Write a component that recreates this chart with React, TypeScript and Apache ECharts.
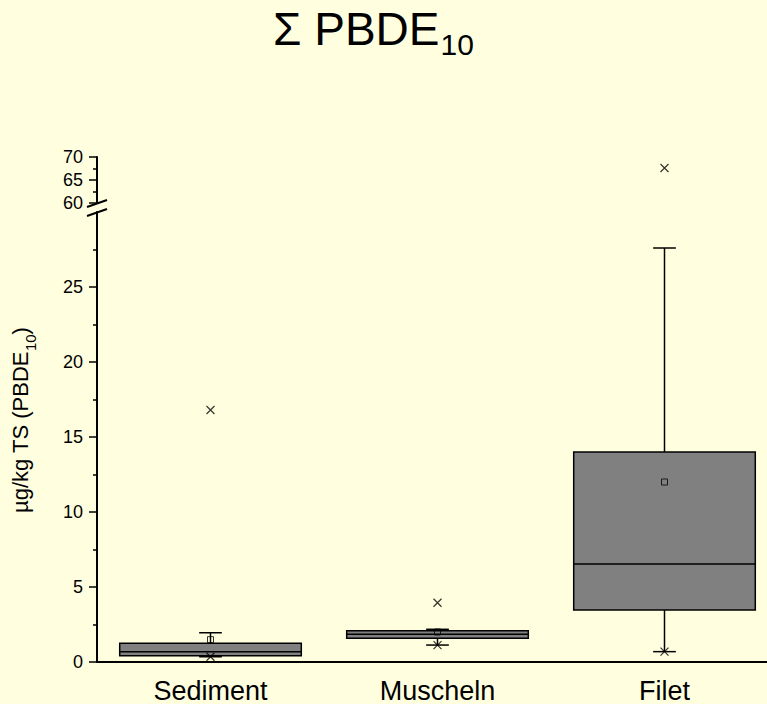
import React, { useEffect, useRef } from "react";
import * as echarts from "echarts";

const categories = ["Sediment", "Muscheln", "Filet"];
const whiskerLow = [0.35, 1.13, 0.69];
const q1 = [0.42, 1.58, 3.47];
const median = [0.69, 1.85, 6.53];
const q3 = [1.25, 2.09, 14.0];
const whiskerHigh = [1.95, 2.18, 27.6];
const means = [1.49, 2.0, 12.0];
const minVals = [0.35, 1.13, 0.69];
const maxVals = [16.8, 3.95, 67.6];

const lowerTicks = [0, 5, 10, 15, 20, 25];
const upperTicks = [60, 65, 70];
const LOWER_MAX = 30;

const FONT = "'Liberation Sans', Arial, Helvetica, sans-serif";

function measure(text: string, size: number): number {
  const c = document.createElement("canvas");
  const ctx = c.getContext("2d");
  if (!ctx) return text.length * size * 0.55;
  ctx.font = `${size}px ${FONT}`;
  return ctx.measureText(text).width;
}

export default function App() {
  const ref = useRef<HTMLDivElement>(null);
  useEffect(() => {
    document.body.style.margin = "0";
    if (!ref.current) return;
    const chart = echarts.init(ref.current, null, { renderer: "svg" });

    const titleMain = "Σ PBDE";
    const titleSize = 46;
    const titleSubSize = 30;
    const titleW = measure(titleMain, titleSize);
    const titleX = 273;

    const yMain = "µg/kg TS (PBDE";
    const ySize = 22;
    const ySubSize = 15;
    const yMainW = measure(yMain, ySize);
    const ySubW = measure("10", ySubSize);
    const yEndW = measure(")", ySize);
    const yTotal = yMainW + ySubW + yEndW;
    const yStart = -yTotal / 2;

    const axisLine = { lineStyle: { color: "#000", width: 2 } };
    const tickStyle = { color: "#000", width: 1.5 };

    const lowerMarks: number[][] = [];
    const upperMarks: number[][] = [];
    categories.forEach((_, i) => {
      lowerMarks.push([i, minVals[i]]);
      if (maxVals[i] <= LOWER_MAX) lowerMarks.push([i, maxVals[i]]);
      else upperMarks.push([i, maxVals[i]]);
    });

    const xSymbol = "path://M0,0L10,10M10,0L0,10";

    const option: any = {
      animation: false,
      backgroundColor: "#FFFFE0",
      grid: [
        { left: 97, top: 212, width: 681, height: 450 },
        { left: 97, top: 157, width: 681, height: 46 },
      ],
      xAxis: [
        {
          type: "category",
          gridIndex: 0,
          data: categories,
          axisLine: axisLine,
          axisTick: { alignWithLabel: true, length: 9, lineStyle: { color: "#000", width: 2 } },
          axisLabel: { color: "#000", fontSize: 27, fontFamily: FONT, margin: 15 },
          splitLine: { show: false },
        },
        {
          type: "category",
          gridIndex: 1,
          data: categories,
          show: false,
        },
      ],
      yAxis: [
        {
          type: "value",
          gridIndex: 0,
          min: 0,
          max: LOWER_MAX,
          interval: 5,
          axisLine: { show: true, ...axisLine },
          axisTick: { show: true, length: 8, lineStyle: tickStyle, customValues: lowerTicks },
          minorTick: { show: true, splitNumber: 2, length: 4, lineStyle: tickStyle },
          axisLabel: { color: "#000", fontSize: 18, fontFamily: FONT, margin: 14, customValues: lowerTicks },
          splitLine: { show: false },
        },
        {
          type: "value",
          gridIndex: 1,
          min: 60,
          max: 70,
          interval: 5,
          axisLine: { show: true, ...axisLine },
          axisTick: { show: true, length: 8, lineStyle: tickStyle, customValues: upperTicks },
          minorTick: { show: true, splitNumber: 2, length: 4, lineStyle: tickStyle },
          axisLabel: { color: "#000", fontSize: 18, fontFamily: FONT, margin: 14, customValues: upperTicks },
          splitLine: { show: false },
        },
      ],
      series: [
        {
          type: "custom",
          xAxisIndex: 0,
          yAxisIndex: 0,
          encode: { x: 0, y: [1, 2, 3, 4, 5] },
          data: categories.map((_, i) => [i, whiskerLow[i], q1[i], median[i], q3[i], whiskerHigh[i]]),
          renderItem: (params: any, api: any) => {
            const i = api.value(0);
            const lo = api.coord([i, api.value(1)]);
            const b1 = api.coord([i, api.value(2)]);
            const md = api.coord([i, api.value(3)]);
            const b3 = api.coord([i, api.value(4)]);
            const hi = api.coord([i, api.value(5)]);
            const band = api.size([1, 0])[0];
            const bw = band * 0.8;
            const cw = band * 0.1;
            const cx = lo[0];
            const st = { stroke: "#000", lineWidth: 1.5 };
            return {
              type: "group",
              children: [
                { type: "line", shape: { x1: cx, y1: hi[1], x2: cx, y2: b3[1] }, style: st },
                { type: "line", shape: { x1: cx, y1: b1[1], x2: cx, y2: lo[1] }, style: st },
                { type: "line", shape: { x1: cx - cw / 2, y1: hi[1], x2: cx + cw / 2, y2: hi[1] }, style: st },
                { type: "line", shape: { x1: cx - cw / 2, y1: lo[1], x2: cx + cw / 2, y2: lo[1] }, style: st },
                {
                  type: "rect",
                  shape: { x: cx - bw / 2, y: b3[1], width: bw, height: b1[1] - b3[1] },
                  style: { fill: "#808080", stroke: "#000", lineWidth: 1.5 },
                },
                { type: "line", shape: { x1: cx - bw / 2, y1: md[1], x2: cx + bw / 2, y2: md[1] }, style: st },
              ],
            };
          },
          z: 2,
        },
        {
          type: "scatter",
          xAxisIndex: 0,
          yAxisIndex: 0,
          data: means.map((m, i) => [i, m]),
          symbol: "rect",
          symbolSize: 6,
          itemStyle: { color: "rgba(0,0,0,0)", borderColor: "#000", borderWidth: 1 },
          z: 5,
        },
        {
          type: "scatter",
          xAxisIndex: 0,
          yAxisIndex: 0,
          data: lowerMarks,
          symbol: xSymbol,
          symbolSize: 8,
          itemStyle: { color: "none", borderColor: "#000", borderWidth: 1.2 },
          z: 5,
        },
        {
          type: "scatter",
          xAxisIndex: 1,
          yAxisIndex: 1,
          data: upperMarks,
          symbol: xSymbol,
          symbolSize: 8,
          itemStyle: { color: "none", borderColor: "#000", borderWidth: 1.2 },
          z: 5,
        },
      ],
      graphic: [
        {
          type: "text",
          x: titleX,
          y: 28.5,
          style: { text: titleMain, fontSize: titleSize, fontFamily: FONT, fill: "#000", align: "left", verticalAlign: "middle" },
        },
        {
          type: "text",
          x: titleX + titleW + 1,
          y: 44,
          style: { text: "10", fontSize: titleSubSize, fontFamily: FONT, fill: "#000", align: "left", verticalAlign: "middle" },
        },
        {
          type: "group",
          x: 20,
          y: 420,
          rotation: Math.PI / 2,
          children: [
            {
              type: "text",
              x: yStart,
              y: 0,
              style: { text: yMain, fontSize: ySize, fontFamily: FONT, fill: "#000", align: "left", verticalAlign: "middle" },
            },
            {
              type: "text",
              x: yStart + yMainW,
              y: 10,
              style: { text: "10", fontSize: ySubSize, fontFamily: FONT, fill: "#000", align: "left", verticalAlign: "middle" },
            },
            {
              type: "text",
              x: yStart + yMainW + ySubW,
              y: 0,
              style: { text: ")", fontSize: ySize, fontFamily: FONT, fill: "#000", align: "left", verticalAlign: "middle" },
            },
          ],
        },
        { type: "line", shape: { x1: 87, y1: 207, x2: 107, y2: 200 }, style: { stroke: "#000", lineWidth: 2 }, z: 10 },
        { type: "line", shape: { x1: 87, y1: 216, x2: 107, y2: 209 }, style: { stroke: "#000", lineWidth: 2 }, z: 10 },
        { type: "rect", shape: { x: 95, y: 204, width: 4, height: 7 }, style: { fill: "#FFFFE0" }, z: 9 },
      ],
    };

    chart.setOption(option);
    return () => chart.dispose();
  }, []);
  return (
    <div style={{ width: 767, height: 704, overflow: "hidden", background: "#FFFFE0" }}>
      <div ref={ref} style={{ width: 790, height: 704 }} />
    </div>
  );
}
